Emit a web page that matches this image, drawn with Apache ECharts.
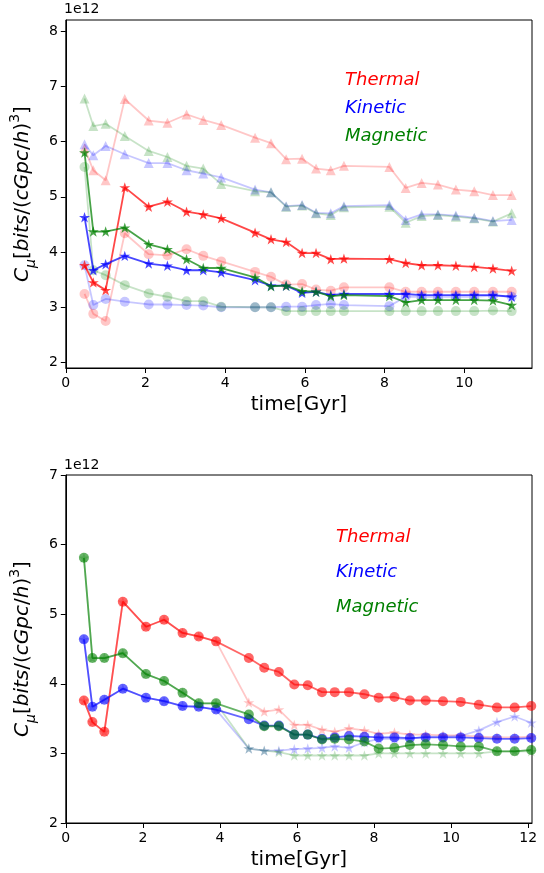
<!DOCTYPE html>
<html>
<head>
<meta charset="utf-8">
<script src="https://cdn.jsdelivr.net/npm/echarts@6/dist/echarts.min.js"></script>
<style>
  html, body { margin: 0; padding: 0; background: #fff; }
  #chart { width: 544px; height: 873px; }
</style>
</head>
<body>
<div id="chart"></div>
<script>
// ---- upper panel: snapshot times [Gyr] ----
var timesUpper = [0.47, 0.69, 1.0, 1.48, 2.08, 2.55, 3.03, 3.45, 3.9, 4.75, 5.15, 5.53, 5.93, 6.28, 6.65, 6.98, 8.12, 8.53, 8.93, 9.34, 9.79, 10.25, 10.72, 11.19];

// stars (strong)
var thermalStar  = [3.76, 3.45, 3.31, 5.17, 4.82, 4.91, 4.73, 4.68, 4.61, 4.35, 4.23, 4.18, 3.98, 3.98, 3.87, 3.88, 3.87, 3.80, 3.76, 3.76, 3.75, 3.73, 3.70, 3.66];
var kineticStar  = [4.63, 3.67, 3.78, 3.93, 3.79, 3.75, 3.67, 3.67, 3.63, 3.49, 3.39, 3.39, 3.26, 3.28, 3.22, 3.24, 3.24, 3.24, 3.22, 3.22, 3.22, 3.22, 3.22, 3.19];
var magneticStar = [5.80, 4.37, 4.37, 4.44, 4.14, 4.05, 3.87, 3.71, 3.71, 3.54, 3.38, 3.39, 3.29, 3.28, 3.20, 3.22, 3.20, 3.09, 3.13, 3.13, 3.13, 3.13, 3.12, 3.04];

// triangles (faint)
var thermalTri  = [5.88, 5.48, 5.30, 6.77, 6.38, 6.34, 6.49, 6.39, 6.30, 6.07, 5.97, 5.68, 5.69, 5.51, 5.48, 5.56, 5.54, 5.16, 5.25, 5.22, 5.13, 5.10, 5.03, 5.03];
var kineticTri  = [5.95, 5.75, 5.92, 5.77, 5.61, 5.61, 5.48, 5.42, 5.35, 5.13, 5.08, 4.83, 4.85, 4.71, 4.70, 4.83, 4.85, 4.58, 4.68, 4.68, 4.66, 4.62, 4.56, 4.58];
var magneticTri = [6.78, 6.28, 6.32, 6.10, 5.83, 5.72, 5.56, 5.51, 5.23, 5.10, 5.08, 4.82, 4.84, 4.70, 4.67, 4.81, 4.82, 4.53, 4.65, 4.67, 4.64, 4.61, 4.55, 4.70];

// circles (faint)
var thermalCirc  = [3.24, 2.88, 2.75, 4.34, 3.96, 3.94, 4.05, 3.93, 3.83, 3.64, 3.55, 3.41, 3.42, 3.32, 3.30, 3.36, 3.36, 3.28, 3.28, 3.28, 3.28, 3.28, 3.28, 3.28];
var kineticCirc  = [3.76, 3.04, 3.15, 3.10, 3.05, 3.05, 3.04, 3.03, 3.00, 3.00, 3.00, 3.01, 3.01, 3.04, 3.06, 3.04, 3.02, 3.19, 3.19, 3.19, 3.19, 3.19, 3.21, 3.19];
var magneticCirc = [5.54, 3.67, 3.58, 3.40, 3.25, 3.19, 3.11, 3.11, 3.01, 3.00, 3.00, 2.93, 2.93, 2.93, 2.93, 2.93, 2.93, 2.93, 2.93, 2.93, 2.93, 2.93, 2.94, 2.93];

// ---- lower panel ----
var timesLower = [0.47, 0.69, 1.0, 1.48, 2.08, 2.55, 3.03, 3.45, 3.9, 4.75, 5.15, 5.53, 5.93, 6.28, 6.65, 6.98, 7.35, 7.75, 8.12, 8.53, 8.93, 9.34, 9.79, 10.25, 10.72, 11.19, 11.65, 12.08];

// circles (strong)
var thermalDot  = [3.76, 3.45, 3.31, 5.18, 4.82, 4.92, 4.73, 4.68, 4.61, 4.37, 4.23, 4.17, 3.99, 3.98, 3.88, 3.88, 3.88, 3.85, 3.80, 3.81, 3.76, 3.76, 3.75, 3.74, 3.70, 3.66, 3.66, 3.68];
var kineticDot  = [4.64, 3.67, 3.77, 3.93, 3.80, 3.75, 3.68, 3.67, 3.63, 3.49, 3.40, 3.40, 3.27, 3.27, 3.21, 3.23, 3.25, 3.24, 3.23, 3.23, 3.22, 3.23, 3.23, 3.23, 3.22, 3.21, 3.21, 3.22];
var magneticDot = [5.81, 4.37, 4.37, 4.44, 4.14, 4.04, 3.87, 3.72, 3.72, 3.56, 3.39, 3.39, 3.27, 3.27, 3.20, 3.21, 3.20, 3.17, 3.07, 3.08, 3.12, 3.13, 3.12, 3.10, 3.10, 3.03, 3.03, 3.05];

// stars (faint)
var thermalFaint  = [3.76, 3.45, 3.31, 5.18, 4.82, 4.92, 4.73, 4.68, 4.61, 3.73, 3.60, 3.63, 3.41, 3.41, 3.34, 3.31, 3.36, 3.33, 3.28, 3.30, 3.27, 3.27, 3.26, 3.26, 3.24, 3.23, 3.23, 3.24];
var kineticFaint  = [4.64, 3.67, 3.77, 3.93, 3.80, 3.75, 3.68, 3.67, 3.63, 3.07, 3.04, 3.04, 3.06, 3.07, 3.08, 3.10, 3.08, 3.16, 3.21, 3.21, 3.21, 3.24, 3.24, 3.25, 3.33, 3.45, 3.53, 3.44];
var magneticFaint = [5.81, 4.37, 4.37, 4.44, 4.14, 4.04, 3.87, 3.72, 3.72, 3.07, 3.04, 3.02, 2.97, 2.97, 2.97, 2.97, 2.97, 2.97, 3.00, 3.00, 3.00, 3.00, 3.00, 3.00, 3.00, 3.03, 3.03, 3.03];

// axis ticks
var xTicksUpper = [0, 2, 4, 6, 8, 10];
var yTicksUpper = [2, 3, 4, 5, 6, 7, 8];
var xTicksLower = [0, 2, 4, 6, 8, 10, 12];
var yTicksLower = [2, 3, 4, 5, 6, 7];

var RED = '#ff0000', BLUE = '#0000ff', GREEN = '#008000';
var FONT = '"DejaVu Sans", "Liberation Sans", sans-serif';
var STAR = 'path://M0,-10L2.245,-3.09L9.511,-3.09L3.633,1.18L5.878,8.09L0,3.82L-5.878,8.09L-3.633,1.18L-9.511,-3.09L-2.245,-3.09Z';

function pairs(xs, ys) {
  return xs.map(function (x, i) { return [x, ys[i]]; });
}

function line(idx, xs, ys, color, symbol, size, alpha, z) {
  return {
    type: 'line',
    xAxisIndex: idx, yAxisIndex: idx,
    data: pairs(xs, ys),
    symbol: symbol,
    symbolSize: size,
    symbolKeepAspect: true,
    showAllSymbol: true,
    z: z,
    silent: true,
    lineStyle: { color: color, width: 1.8, opacity: alpha },
    itemStyle: { color: color, opacity: alpha, borderWidth: 0 },
    emphasis: { disabled: true }
  };
}

function xAxisCfg(idx, max, ticks) {
  return {
    type: 'value', gridIndex: idx, min: 0, max: max,
    name: 'time[Gyr]', nameLocation: 'middle', nameGap: 27,
    nameTextStyle: { fontFamily: FONT, fontSize: 20, color: '#000' },
    axisLine: { show: true, lineStyle: { color: '#000', width: 1 } },
    axisTick: { show: true, length: 5, lineStyle: { color: '#000' }, customValues: ticks },
    axisLabel: { fontFamily: FONT, fontSize: 14, color: '#000', margin: 8, customValues: ticks },
    splitLine: { show: false }
  };
}

var yName = '{i|C}{s|μ}{p|[}{i|bits}{p|/(}{i|cGpc}{p|/}{i|h}{p|)}{u|3}{p|]}';
var yRich = {
  i: { fontFamily: FONT, fontStyle: 'italic', fontSize: 20, lineHeight: 30, color: '#000' },
  p: { fontFamily: FONT, fontSize: 20, lineHeight: 30, color: '#000' },
  s: { fontFamily: FONT, fontStyle: 'italic', fontSize: 14, lineHeight: 17, verticalAlign: 'bottom', color: '#000' },
  u: { fontFamily: FONT, fontSize: 14, lineHeight: 17, verticalAlign: 'top', color: '#000' }
};

function yAxisCfg(idx, min, max, ticks) {
  return {
    type: 'value', gridIndex: idx, min: min, max: max,
    name: yName, nameLocation: 'middle', nameRotate: 90, nameGap: 24,
    nameTextStyle: { rich: yRich },
    axisLine: { show: true, lineStyle: { color: '#000', width: 1 } },
    axisTick: { show: true, length: 5, lineStyle: { color: '#000' }, customValues: ticks },
    axisLabel: { fontFamily: FONT, fontSize: 14, color: '#000', margin: 8, customValues: ticks },
    splitLine: { show: false }
  };
}

function note(x, y, text, color) {
  return {
    type: 'text', x: x, y: y, silent: true,
    style: { text: text, fill: color, font: 'italic 18px ' + FONT, verticalAlign: 'middle' }
  };
}

var chart = echarts.init(document.getElementById('chart'), null, { renderer: 'canvas' });
chart.setOption({
  backgroundColor: '#fff',
  animation: false,
  grid: [
    { left: 64, top: 20, width: 468, height: 348, show: true, borderColor: '#000', borderWidth: 1, backgroundColor: 'transparent' },
    { left: 64, top: 475, width: 468, height: 348, show: true, borderColor: '#000', borderWidth: 1, backgroundColor: 'transparent' }
  ],
  xAxis: [xAxisCfg(0, 11.7, xTicksUpper), xAxisCfg(1, 12.1, xTicksLower)],
  yAxis: [yAxisCfg(0, 1.9, 8.2, yTicksUpper), yAxisCfg(1, 2, 7, yTicksLower)],
  graphic: [
    { type: 'text', x: 64, y: 9, silent: true, style: { text: '1e12', fill: '#000', font: '14px ' + FONT, verticalAlign: 'middle' } },
    { type: 'text', x: 64, y: 465, silent: true, style: { text: '1e12', fill: '#000', font: '14px ' + FONT, verticalAlign: 'middle' } },
    note(345, 80, 'Thermal', RED),
    note(345, 108, 'Kinetic', BLUE),
    note(345, 136, 'Magnetic', GREEN),
    note(336, 537, 'Thermal', RED),
    note(336, 572, 'Kinetic', BLUE),
    note(336, 607, 'Magnetic', GREEN)
  ],
  series: [
    // upper panel
    line(0, timesUpper, thermalTri, RED, 'triangle', 10, 0.22, 2),
    line(0, timesUpper, kineticTri, BLUE, 'triangle', 10, 0.22, 2),
    line(0, timesUpper, magneticTri, GREEN, 'triangle', 10, 0.22, 2),
    line(0, timesUpper, thermalCirc, RED, 'circle', 10, 0.22, 2),
    line(0, timesUpper, kineticCirc, BLUE, 'circle', 10, 0.22, 2),
    line(0, timesUpper, magneticCirc, GREEN, 'circle', 10, 0.22, 2),
    line(0, timesUpper, thermalStar, RED, STAR, 11, 0.72, 3),
    line(0, timesUpper, kineticStar, BLUE, STAR, 11, 0.72, 3),
    line(0, timesUpper, magneticStar, GREEN, STAR, 11, 0.72, 3),
    // lower panel
    line(1, timesLower, thermalFaint, RED, STAR, 11, 0.22, 2),
    line(1, timesLower, kineticFaint, BLUE, STAR, 11, 0.22, 2),
    line(1, timesLower, magneticFaint, GREEN, STAR, 11, 0.22, 2),
    line(1, timesLower, thermalDot, RED, 'circle', 10, 0.6, 3),
    line(1, timesLower, kineticDot, BLUE, 'circle', 10, 0.6, 3),
    line(1, timesLower, magneticDot, GREEN, 'circle', 10, 0.6, 3)
  ]
});
</script>
</body>
</html>
